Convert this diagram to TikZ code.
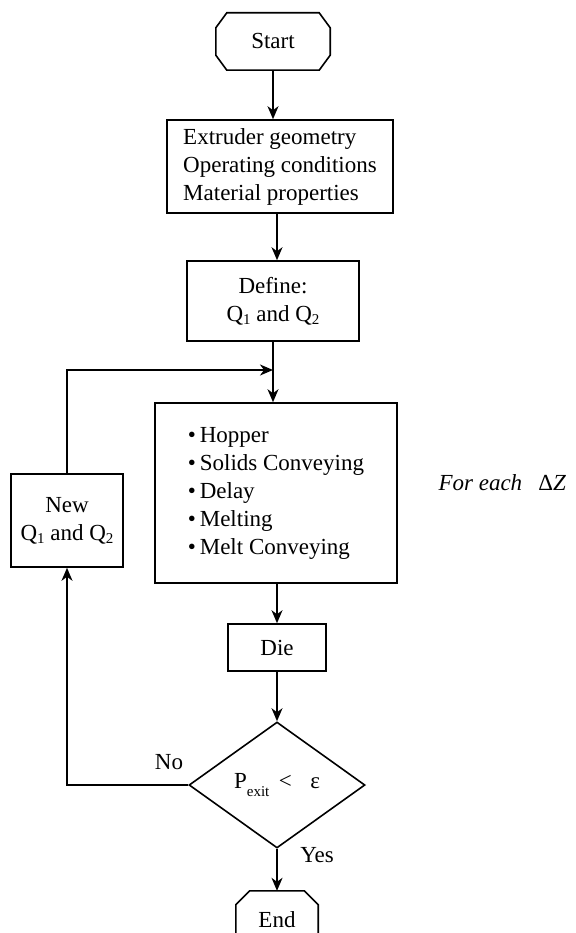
\documentclass[tikz,border=0pt]{standalone}
\usepackage{fontspec}
\setmainfont{Liberation Serif}
\usetikzlibrary{arrows.meta,shapes.geometric}

\newcommand{\lowsub}[1]{\raisebox{-0.35ex}{\fontsize{15}{15}\selectfont #1}}
\newcommand{\lowexit}[1]{\raisebox{-0.7ex}{\fontsize{15}{15}\selectfont #1}}
% octagon outline round a plain node
\newcommand{\cutcorners}[3]{%
  \draw[flowline] ([xshift=#2]#1.north west) -- ([xshift=-#2]#1.north east)
    -- ([yshift=-#3]#1.north east) -- ([yshift=#3]#1.south east)
    -- ([xshift=-#2]#1.south east) -- ([xshift=#2]#1.south west)
    -- ([yshift=#3]#1.south west) -- ([yshift=-#3]#1.north west) -- cycle;}

\tikzset{
  flowline/.style={line width=1.6pt, line join=miter},
  arrow/.style={flowline, -{Stealth[length=13pt,width=11pt,inset=4pt]}},
  txt/.style={font=\fontsize{23}{28}\selectfont},
  box/.style={txt, draw, flowline, rectangle, inner sep=0pt, align=center},
  terminal/.style={txt, rectangle, inner sep=0pt},
  decision/.style={txt, draw, flowline, diamond, aspect=1.4,
    minimum width=176pt, minimum height=126pt, inner sep=0pt}
}

\begin{document}
\begin{tikzpicture}[x=1pt,y=-1pt]
  \useasboundingbox (0,0) rectangle (575,933);

  % Start and input data
  \node[terminal, minimum width=114pt, minimum height=57pt] (start) at (273,41.5) {Start};
  \cutcorners{start}{11pt}{15pt}
  \node[box, align=left, minimum width=226pt, minimum height=93pt] (input) at (280,166.5)
    {Extruder geometry\\Operating conditions\\Material properties};
  \node[box, minimum width=172pt, minimum height=80pt] (define) at (273,301)
    {Define:\\Q\lowsub{1} and Q\lowsub{2}};

  % Zone calculations
  \coordinate (merge) at (273,370);
  \node[box, align=left, minimum width=242pt, minimum height=180pt] (zones) at (276,493)
    {\textbullet\,Hopper\\\textbullet\,Solids Conveying\\\textbullet\,Delay\\\textbullet\,Melting\\\textbullet\,Melt Conveying};
  \node[txt, anchor=west] (foreach) at (435,483) {\textit{For each}\hspace{0.7em}Δ\textit{Z}};
  \node[box, minimum width=112pt, minimum height=93pt] (newq) at (67,520.5)
    {New\\Q\lowsub{1} and Q\lowsub{2}};
  \node[box, minimum width=98pt, minimum height=47pt] (die) at (277,647.5) {Die};

  % Convergence test
  \node[decision] (test) at (277,785) {P\lowexit{exit} \,<\hspace{0.8em}ε};
  \node[txt] (no) at (169,762) {No};
  \node[txt] (yes) at (317,855) {Yes};
  \node[terminal, minimum width=82pt, minimum height=57pt] (end) at (277,919.5) {End};
  \cutcorners{end}{14pt}{14pt}

  % Connectors
  \draw[arrow] (start.south) -- (start.south |- input.north);
  \draw[arrow] (input.south -| 277,0) -- (define.north -| 277,0);
  \draw[arrow] (define.south -| merge) -- (zones.north -| merge);
  \draw[arrow] (newq.north) |- (merge);
  \draw[arrow] (zones.south -| die.north) -- (die.north);
  \draw[arrow] (die.south -| test.north) -- (test.north);
  \draw[arrow] (test.south) -- (test.south |- end.north);
  \draw[arrow] (test.west) -| (newq.south);
\end{tikzpicture}
\end{document}
